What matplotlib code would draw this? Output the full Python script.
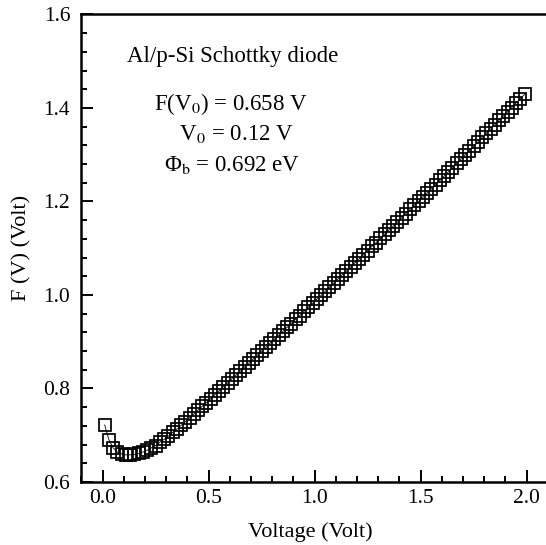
import matplotlib
matplotlib.use("Agg")
import matplotlib.pyplot as plt
from matplotlib.ticker import MultipleLocator, FormatStrFormatter

plt.rcParams["font.family"] = ["Liberation Serif", "DejaVu Serif"]
plt.rcParams["mathtext.fontset"] = "stix"

# Norde function F(V) of the Al/p-Si diode
voltage = [
    0.01, 0.03, 0.05, 0.07, 0.09, 0.11, 0.13, 0.15, 0.17, 0.19,
    0.21, 0.23, 0.25, 0.27, 0.29, 0.31, 0.33, 0.35, 0.37, 0.39,
    0.41, 0.43, 0.45, 0.47, 0.49, 0.51, 0.53, 0.55, 0.57, 0.59,
    0.61, 0.63, 0.65, 0.67, 0.69, 0.71, 0.73, 0.75, 0.77, 0.79,
    0.81, 0.83, 0.85, 0.87, 0.89, 0.91, 0.93, 0.95, 0.97, 0.99,
    1.01, 1.03, 1.05, 1.07, 1.09, 1.11, 1.13, 1.15, 1.17, 1.19,
    1.21, 1.23, 1.25, 1.27, 1.29, 1.31, 1.33, 1.35, 1.37, 1.39,
    1.41, 1.43, 1.45, 1.47, 1.49, 1.51, 1.53, 1.55, 1.57, 1.59,
    1.61, 1.63, 1.65, 1.67, 1.69, 1.71, 1.73, 1.75, 1.77, 1.79,
    1.81, 1.83, 1.85, 1.87, 1.89, 1.91, 1.93, 1.95, 1.97, 1.99,
]
f_v = [
    0.722, 0.690, 0.673, 0.664, 0.660, 0.658, 0.658, 0.659, 0.661, 0.664,
    0.668, 0.673, 0.678, 0.685, 0.691, 0.698, 0.706, 0.713, 0.721, 0.729,
    0.737, 0.745, 0.753, 0.762, 0.770, 0.778, 0.787, 0.795, 0.804, 0.812,
    0.821, 0.829, 0.837, 0.846, 0.854, 0.863, 0.871, 0.880, 0.888, 0.897,
    0.905, 0.914, 0.922, 0.931, 0.939, 0.948, 0.956, 0.965, 0.974, 0.982,
    0.991, 0.999, 1.008, 1.017, 1.025, 1.034, 1.043, 1.051, 1.060, 1.069,
    1.077, 1.086, 1.095, 1.104, 1.112, 1.121, 1.130, 1.139, 1.147, 1.156,
    1.165, 1.174, 1.183, 1.192, 1.200, 1.209, 1.218, 1.227, 1.236, 1.245,
    1.254, 1.263, 1.272, 1.282, 1.291, 1.300, 1.309, 1.318, 1.327, 1.337,
    1.346, 1.355, 1.364, 1.374, 1.383, 1.392, 1.401, 1.411, 1.420, 1.429,
]

notes = [
    "F(V$_0$) = 0.658 V",
    " V$_0$ = 0.12 V",
    "Φ$_\\mathrm{b}$ = 0.692 eV",
]

fig = plt.figure(figsize=(5.46, 5.45), dpi=100)
ax = fig.add_axes([0.149, 0.1156, 0.8545, 0.8578])

ax.plot(voltage, f_v, "-", color="black", lw=0.6)
ax.plot(voltage, f_v, "s", ms=8.5, mfc="none", mec="black", mew=1.25)

ax.set_xlim(-0.1, 2.1)
ax.set_ylim(0.6, 1.6)
ax.xaxis.set_major_locator(MultipleLocator(0.5))
ax.xaxis.set_minor_locator(MultipleLocator(0.1))
ax.yaxis.set_major_locator(MultipleLocator(0.2))
ax.yaxis.set_minor_locator(MultipleLocator(0.04))
ax.xaxis.set_major_formatter(FormatStrFormatter("%.1f"))
ax.yaxis.set_major_formatter(FormatStrFormatter("%.1f"))

ax.tick_params(which="both", direction="in", width=1.4, top=False, right=False,
               labelsize=15.5)
ax.tick_params(which="major", length=8.6)
ax.tick_params(which="minor", length=4.3)
ax.tick_params(axis="y", pad=8)
ax.tick_params(axis="x", pad=5)

for s in ["left", "bottom", "top"]:
    ax.spines[s].set_linewidth(1.8)
ax.spines["right"].set_visible(False)

ax.set_xlabel("Voltage (Volt)", fontsize=16)
ax.set_ylabel("F (V) (Volt)", fontsize=16)
ax.xaxis.set_label_coords(0.49, -0.086)
ax.yaxis.set_label_coords(-0.107, 0.5)

ax.text(0.115, 1.51, "Al/p-Si Schottky diode", fontsize=16.5, ha="left", va="center")
ax.text(0.606, 1.408, notes[0], fontsize=16.5, ha="center", va="center")
ax.text(0.622, 1.345, notes[1], fontsize=16.5, ha="center", va="center")
ax.text(0.611, 1.277, notes[2], fontsize=16.5, ha="center", va="center")

fig.savefig("out.png", dpi=100)
